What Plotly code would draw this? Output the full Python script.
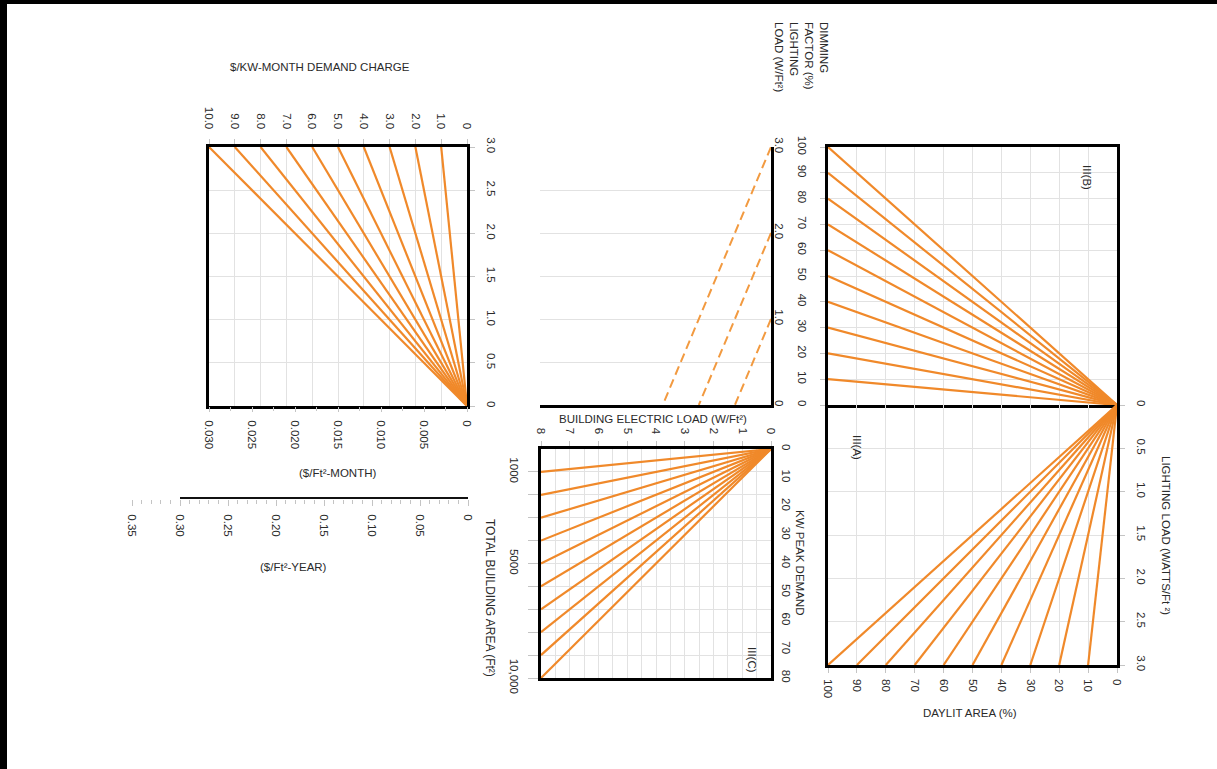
import plotly.graph_objects as go

W, H = 1217, 769

# ---- chart values ----------------------------------------------------------
DAYLIT_PCT = [10, 20, 30, 40, 50, 60, 70, 80, 90, 100]          # III(A) fan ends
DIMMING_PCT = [10, 20, 30, 40, 50, 60, 70, 80, 90, 100]         # III(B) fan ends
FULL_LIGHTING_LOAD = 3.0                                         # W/ft2
LIGHTING_LOADS = [1.0, 2.0, 3.0]                                 # W/ft2 (dashed)
BUILDING_LOADS = [1.25, 2.5, 3.75]                               # W/ft2 (dashed)
BUILDING_AREAS = [1000, 2000, 3000, 4000, 5000, 6000, 7000, 8000, 9000, 10000]
MAX_BUILDING_LOAD = 8.0                                          # W/ft2
DEMAND_CHARGES = [1.0, 2.0, 3.0, 4.0, 5.0, 6.0, 7.0, 8.0, 9.0, 10.0]  # $/kW-month
DEMAND_REF_LOAD = 3.0                                            # W/ft2
YEARLY_SCALE_END = 0.30                                          # $/ft2-year

# tick labels
PCT_TICKS = [0, 10, 20, 30, 40, 50, 60, 70, 80, 90, 100]
LL_TICKS = [0, 0.5, 1.0, 1.5, 2.0, 2.5, 3.0]
LL_TEXT = ["0", "0.5", "1.0", "1.5", "2.0", "2.5", "3.0"]
LL_MAJOR_TEXT = ["0", "", "1.0", "", "2.0", "", "3.0"]
BEL_TICKS = [0, 1, 2, 3, 4, 5, 6, 7, 8]
KW_TICKS = [0, 10, 20, 30, 40, 50, 60, 70, 80]
AREA_TICKS = [1000, 2000, 3000, 4000, 5000, 6000, 7000, 8000, 9000, 10000]
AREA_TEXT = ["1000", "", "", "", "5000", "", "", "", "", "10,000"]
CHARGE_TICKS = [0, 1, 2, 3, 4, 5, 6, 7, 8, 9, 10]
CHARGE_TEXT = ["0", "1.0", "2.0", "3.0", "4.0", "5.0", "6.0", "7.0", "8.0", "9.0", "10.0"]
MONTH_TICKS = [0, 0.005, 0.010, 0.015, 0.020, 0.025, 0.030]
MONTH_TEXT = ["0", "0.005", "0.010", "0.015", "0.020", "0.025", "0.030"]
YEAR_TICKS = [0, 0.05, 0.10, 0.15, 0.20, 0.25, 0.30, 0.35]
YEAR_TEXT = ["0", "0.05", "0.10", "0.15", "0.20", "0.25", "0.30", "0.35"]

ORANGE = "#F0892A"
ORANGE_DASH = "#F29A40"
GRID = "#e2e2e2"
TICKC = "#c4c4c4"
TXT = "#2a2a2a"
FONT = "Liberation Sans, Arial, sans-serif"
FS = 11.5


def xd(p0, p1):
    return [p0 / W, p1 / W]


def yd(p_top, p_bot):
    return [1 - p_bot / H, 1 - p_top / H]


def fan(x_ends, y_ends, x0=0.0, y0=0.0):
    xs, ys = [], []
    for xe, ye in zip(x_ends, y_ends):
        xs += [x0, xe, None]
        ys += [y0, ye, None]
    return xs, ys


fig = go.Figure()


def line(xs, ys, xa, ya, color=ORANGE, width=2.2, dash=None):
    fig.add_trace(go.Scatter(x=xs, y=ys, xaxis=xa, yaxis=ya, mode="lines",
                             line=dict(color=color, width=width, dash=dash),
                             hoverinfo="skip", showlegend=False))


def ghost(xa, ya, x, y):
    fig.add_trace(go.Scatter(x=x, y=y, xaxis=xa, yaxis=ya, mode="markers",
                             marker=dict(opacity=0), hoverinfo="skip",
                             showlegend=False))


# III(B): daylit area vs dimming factor
xs, ys = fan([100] * len(DIMMING_PCT), DIMMING_PCT)
line(xs, ys, "x", "y")
# III(A): daylit area vs lighting load
xs, ys = fan(DAYLIT_PCT, [FULL_LIGHTING_LOAD] * len(DAYLIT_PCT))
line(xs, ys, "x2", "y2")
# lighting load -> building electric load (dashed)
for ll, bl in zip(LIGHTING_LOADS, BUILDING_LOADS):
    line([0, bl], [ll, 0], "x3", "y3", color=ORANGE_DASH, width=2,
         dash="9px,5px")
# III(C): building electric load vs kW peak demand
ghost("x4", "y4", [0, 8], [0, 10000])
xs, ys = fan([MAX_BUILDING_LOAD] * len(BUILDING_AREAS),
             [MAX_BUILDING_LOAD * a / 1000 for a in BUILDING_AREAS])
line(xs, ys, "x4", "y5")
# demand charge panel
ghost("x5", "y6", [0, 10], [0, 3])
xs, ys = fan([c * DEMAND_REF_LOAD / 1000 for c in DEMAND_CHARGES],
             [DEMAND_REF_LOAD] * len(DEMAND_CHARGES))
line(xs, ys, "x6", "y6")
# yearly cost scale
line([0, YEARLY_SCALE_END], [0, 0], "x7", "y7", color="#111", width=4)

tickfont = dict(family=FONT, size=FS, color=TXT)
base = dict(zeroline=False, tickfont=tickfont, tickangle=90, ticks="outside",
            ticklen=5, tickcolor=TICKC, gridcolor=GRID, gridwidth=1,
            automargin=False)
box = dict(showline=True, linecolor="black", linewidth=2.5, mirror=True)
edge = dict(showline=True, linecolor="black", linewidth=2.5, mirror=False)

fig.update_layout(
    width=W, height=H,
    margin=dict(l=0, r=0, t=0, b=0, pad=0, autoexpand=False),
    paper_bgcolor="white", plot_bgcolor="white", showlegend=False,
    font=dict(family=FONT, size=FS, color=TXT),
    # III(B)
    xaxis=dict(base, **box, domain=xd(828, 1117), range=[100, 0], anchor="y",
               tickvals=PCT_TICKS, showticklabels=False, ticks=""),
    yaxis=dict(base, **box, domain=yd(147, 405), range=[0, 100], anchor="x",
               side="left", tickvals=PCT_TICKS, ticklabelstandoff=8),
    # III(A)
    xaxis2=dict(base, **edge, domain=xd(828, 1117), range=[100, 0], anchor="y2",
                side="bottom", tickvals=PCT_TICKS, ticklabelstandoff=4),
    yaxis2=dict(base, **box, domain=yd(405, 665), range=[3, 0], anchor="x2",
                side="right", tickvals=LL_TICKS, ticktext=LL_TEXT,
                ticklabelstandoff=8),
    # dimming / lighting load panel
    xaxis3=dict(base, **edge, domain=xd(540, 771), range=[8, 0], anchor="y3",
                showticklabels=False, ticks="", showgrid=False),
    yaxis3=dict(base, **edge, domain=yd(147, 405), range=[0, 3], anchor="x3",
                side="right", tickvals=LL_TICKS, ticktext=LL_MAJOR_TEXT,
                ticks="", ticklabelstandoff=-3),
    # III(C)
    xaxis4=dict(base, **box, domain=xd(541, 771), range=[8, 0], anchor="y4",
                side="top", tickvals=BEL_TICKS, ticklabelstandoff=3,
                minor=dict(tickmode="linear", tick0=0, dtick=0.5, showgrid=True,
                           gridcolor=GRID, ticks="")),
    yaxis4=dict(base, **box, domain=yd(449, 678), range=[10000, 0], anchor="x4",
                side="left", tickvals=AREA_TICKS, ticktext=AREA_TEXT,
                ticklen=10, ticklabelstandoff=4),
    yaxis5=dict(base, overlaying="y4", range=[80, 0], anchor="x4", side="right",
                tickvals=KW_TICKS, showgrid=False, ticks="",
                ticklabelstandoff=8),
    # demand charge panel
    xaxis5=dict(base, **box, domain=xd(209, 467), range=[10, 0], anchor="y6",
                side="top", tickvals=CHARGE_TICKS, ticktext=CHARGE_TEXT,
                ticklabelstandoff=6),
    xaxis6=dict(base, overlaying="x5", range=[0.030, 0], anchor="y6",
                side="bottom", tickvals=MONTH_TICKS, ticktext=MONTH_TEXT,
                showgrid=False, ticklabelstandoff=6,
                minor=dict(tickmode="linear", tick0=0, dtick=0.0025,
                           ticks="outside", ticklen=4, tickcolor=TICKC)),
    yaxis6=dict(base, **box, domain=yd(147, 406), range=[0, 3], anchor="x5",
                side="right", tickvals=LL_TICKS, ticktext=LL_TEXT,
                ticklabelstandoff=8),
    # yearly scale
    xaxis7=dict(base, domain=xd(132, 468), range=[0.35, 0], anchor="y7",
                side="bottom", tickvals=YEAR_TICKS, ticktext=YEAR_TEXT,
                showgrid=False, ticklen=6, ticklabelstandoff=6,
                minor=dict(tickmode="linear", tick0=0, dtick=0.01,
                           ticks="outside", ticklen=4, tickcolor=TICKC)),
    yaxis7=dict(domain=yd(497, 499), range=[-1, 1], anchor="x7", visible=False,
                automargin=False),
)


def label(text, px, py, angle=0, size=FS, align="center"):
    fig.add_annotation(text=text, x=px / W, y=1 - py / H, xref="paper",
                       yref="paper", xanchor="center", yanchor="middle",
                       showarrow=False, textangle=angle, align=align,
                       font=dict(family=FONT, size=size, color=TXT))


label("$/KW-MONTH DEMAND CHARGE", 320, 67)
label("($/Ft²-MONTH)", 337, 473)
label("($/Ft²-YEAR)", 293, 567)
label("TOTAL BUILDING AREA (Ft²)", 490, 598, angle=90, size=12)
label("BUILDING ELECTRIC LOAD (W/Ft²)", 653, 419)
label("KW PEAK DEMAND", 800, 562, angle=90)
label("III(C)", 752, 660, angle=90)
label("DIMMING<br>FACTOR (%)<br>LIGHTING<br>LOAD (W/Ft²)", 801, 57, angle=90,
      align="left")
label("III(B)", 1087, 177, angle=90)
label("III(A)", 857, 447, angle=90)
label("LIGHTING LOAD (WATTS/Ft ²)", 1166, 535, angle=90)
label("DAYLIT AREA (%)", 970, 713)

# page frame edges
fig.add_shape(type="rect", xref="paper", yref="paper", x0=0, x1=7 / W, y0=0,
              y1=1, fillcolor="black", line=dict(width=0), layer="above")
fig.add_shape(type="rect", xref="paper", yref="paper", x0=0, x1=1,
              y0=1 - 4 / H, y1=1, fillcolor="black", line=dict(width=0),
              layer="above")

fig.write_html("out.html")
